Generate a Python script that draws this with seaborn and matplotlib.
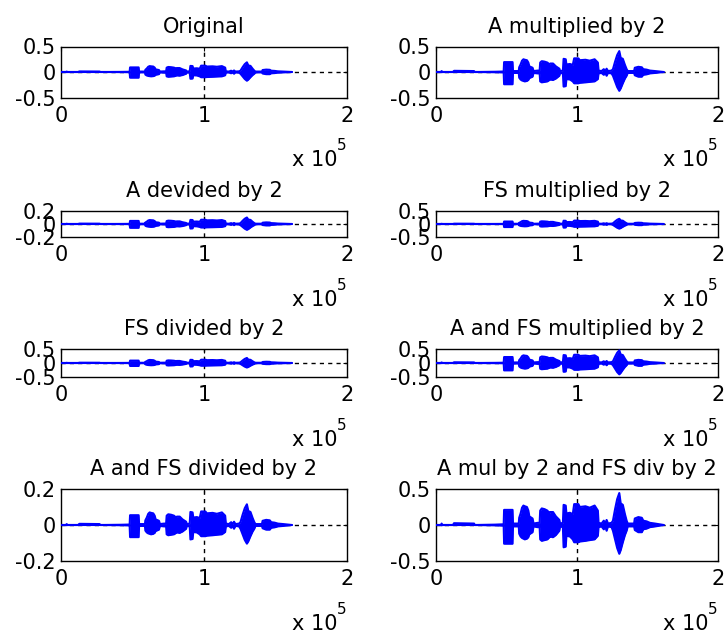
import numpy as np
import pandas as pd
import matplotlib
matplotlib.use("Agg")
import matplotlib.pyplot as plt
import seaborn as sns

# ------------------------------------------------------------
# data
# ------------------------------------------------------------
titles = [
    "Original", "A multiplied by 2",
    "A devided by 2", "FS multiplied by 2",
    "FS divided by 2", "A and FS multiplied by 2",
    "A and FS divided by 2", "A mul by 2 and FS div by 2",
]
# peak amplitude of each panel (tallest burst)
peak_amp = [0.19, 0.41, 0.10, 0.20, 0.18, 0.45, 0.115, 0.444]
# symmetric y limit of each panel
y_lim = [0.5, 0.5, 0.2, 0.5, 0.5, 0.5, 0.2, 0.5]

# waveform envelope (sample index in thousands, upper, lower)
env_x = [0, 3.5, 4, 4.5, 12, 12.8, 27, 27.5, 41.8, 48.0, 48.3, 54.3, 54.6,
         58.7, 59.0, 60, 61, 62, 63, 64.5, 65.5, 66.2, 68.5, 69.2, 72,
         73.5, 73.9, 75, 77, 79, 80.5, 81, 83, 85, 87.5, 88,
         90, 90.5, 92.0, 92.5, 95, 97, 98, 101, 102, 106, 109, 112.5, 114.8, 115.3,
         117.4, 119, 120, 121, 122, 124.5,
         125.5, 127, 128.5, 130, 131, 132.5, 134, 135.2, 136,
         140.5, 141, 143.5, 146, 147, 149.4, 151.7, 155.3, 160, 161.5]
env_top = [0, 0, 0.02, 0, 0, 0.025, 0.02, 0, 0.005, 0.01, 0.21, 0.21, 0.02,
           0.02, 0.10, 0.16, 0.24, 0.27, 0.26, 0.25, 0.20, 0.12, 0.09, 0.02, 0.03,
           0.03, 0.20, 0.23, 0.22, 0.20, 0.16, 0.18, 0.18, 0.12, 0.07, 0.02,
           0.03, 0.28, 0.27, 0.16, 0.17, 0.15, 0.29, 0.29, 0.25, 0.26, 0.24, 0.27, 0.20, 0.03,
           0.02, 0.06, 0.02, 0.07, 0.02, 0.03,
           0.06, 0.22, 0.36, 0.444, 0.30, 0.28, 0.15, 0.06, 0.02,
           0.02, 0.09, 0.11, 0.10, 0.06, 0.05, 0.03, 0.02, 0.005, 0]
env_bot = [0, 0, -0.005, 0, 0, 0, 0, 0, -0.005, -0.01, -0.26, -0.26, -0.02,
           -0.02, -0.12, -0.16, -0.18, -0.19, -0.20, -0.19, -0.17, -0.13, -0.10, -0.02, -0.03,
           -0.03, -0.20, -0.22, -0.21, -0.20, -0.17, -0.16, -0.17, -0.14, -0.08, -0.02,
           -0.03, -0.31, -0.30, -0.15, -0.16, -0.20, -0.24, -0.24, -0.23, -0.22, -0.21, -0.20, -0.15, -0.03,
           -0.02, -0.06, -0.02, -0.08, -0.02, -0.03,
           -0.08, -0.20, -0.32, -0.40, -0.35, -0.24, -0.14, -0.08, -0.02,
           -0.02, -0.07, -0.10, -0.10, -0.06, -0.05, -0.03, -0.02, -0.005, 0]

# ------------------------------------------------------------
# layout (pixels of a 727 x 638 figure)
# ------------------------------------------------------------
W, H = 727, 638
col_x = [(61, 286), (436, 282)]
row_y = [(46.5, 97.5), (211, 237), (349, 377), (489, 561)]

sns.set_theme(style="white")
plt.rcParams["font.family"] = ["DejaVu Sans"]
plt.rcParams["font.size"] = 14
plt.rcParams["text.color"] = "black"
plt.rcParams["xtick.color"] = "black"
plt.rcParams["ytick.color"] = "black"

fig = plt.figure(figsize=(W / 100, H / 100), dpi=100)
blue = "#0000ff"

for i, title in enumerate(titles):
    r, c = divmod(i, 2)
    x0, w = col_x[c]
    top, bot = row_y[r]
    ax = fig.add_axes([x0 / W, 1 - bot / H, w / W, (bot - top) / H])

    scale = peak_amp[i] / max(env_top)
    d = pd.DataFrame({
        "x": np.array(env_x) * 1000,
        "top": np.array(env_top) * scale,
        "bot": np.array(env_bot) * scale,
    })

    ax.axhline(0, color="black", lw=1, ls=(0, (3, 3)), zorder=1)
    ax.axvline(1e5, color="black", lw=1, ls=(0, (3, 3)), zorder=1)
    ax.fill_between(d["x"], d["bot"], d["top"], color=blue, lw=0, zorder=2)
    sns.lineplot(data=d, x="x", y="top", color=blue, lw=1.5, ax=ax, zorder=3)
    sns.lineplot(data=d, x="x", y="bot", color=blue, lw=1.5, ax=ax, zorder=3)

    lim = y_lim[i]
    ax.set_xlim(0, 2e5)
    ax.set_ylim(-lim, lim)
    ax.set_xticks([0, 1e5, 2e5])
    ax.set_xticklabels(["0", "1", "2"])
    ax.set_yticks([-lim, 0, lim])
    ax.set_yticklabels([f"-{lim:g}", "0", f"{lim:g}"])
    ax.set_xlabel("")
    ax.set_ylabel("")
    ax.tick_params(direction="in", length=3, width=0.8, labelsize=15,
                   top=True, right=True, pad=4)
    ax.tick_params(axis="x", pad=6)
    for s in ax.spines.values():
        s.set_color("black")
        s.set_linewidth(1)
    ax.set_title(title, fontsize=15, pad=10, color="black")

    # MATLAB style exponent under each axes
    right = x0 + w
    fig.text((right - 55) / W, 1 - (bot + 63) / H, "x 10", fontsize=15,
             ha="left", va="center")
    fig.text((right - 10) / W, 1 - (bot + 48) / H, "5", fontsize=11,
             ha="left", va="center")

fig.savefig("out.png", dpi=100, facecolor="white")
